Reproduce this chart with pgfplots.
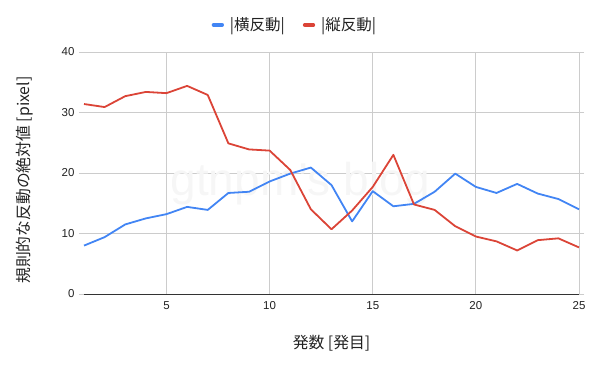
\documentclass[border=0pt]{standalone}
\usepackage{fontspec}
\setmainfont{Liberation Sans}
\newfontfamily\jp{Noto Sans CJK JP}
\usepackage{pgfplots}
\pgfplotsset{compat=1.18}
\definecolor{gblue}{HTML}{4285F4}
\definecolor{gred}{HTML}{DB4437}
\definecolor{ggrid}{HTML}{CCCCCC}
\definecolor{gtext}{HTML}{222222}
\begin{document}
\begin{tikzpicture}
\begin{axis}[
  name=ax,
  scale only axis, width=495pt, height=242pt,
  xmin=1, xmax=25, ymin=0, ymax=40,
  xtick={5,10,15,20,25}, ytick={0,10,20,30,40},
  grid=major, major grid style={ggrid, line width=0.8pt},
  axis line style={draw=none},
  xtick style={draw=none},
  ytick style={draw=ggrid, line width=0.8pt},
  tick align=outside, major tick length=5pt,
  /pgf/number format/assume math mode=true,
  tick label style={font=\fontsize{11.5}{13}\selectfont, text=gtext},
  xticklabel style={yshift=1pt},
  yticklabel style={xshift=-1pt},
  xlabel={\jp 発数 [発目]},
  ylabel={\jp 規則的な反動の絶対値 [pixel]},
  label style={font=\fontsize{15.8}{18}\selectfont, text=gtext},
  xlabel style={at={(axis description cs:0.5,-0.2025)}, anchor=center},
  ylabel style={at={(axis description cs:-0.119,0.471)}, anchor=center},
  legend columns=2,
  legend style={at={(0.426,1.112)}, anchor=center, draw=none, fill=none,
    font=\jp\fontsize{15.5}{17}\selectfont, text=gtext,
    /tikz/every odd column/.append style={column sep=4pt},
    /tikz/every even column/.append style={column sep=16pt}},
  legend image code/.code={\draw[line width=3.8pt, line cap=round] (0pt,0pt) -- (8.5pt,0pt);},
  clip=false,
]
\coordinate (bl) at (rel axis cs:0,0);
\node[text=black!3.5, font=\fontsize{46}{50}\selectfont] at (axis cs:11.5,18.3) {gtnpm's blog};
\draw[color=black!80, line width=0.9pt] (axis cs:1,0) -- (axis cs:25,0);
\addplot[gblue, line width=1.8pt, line join=round] coordinates {
(1,8.0) (2,9.4) (3,11.5) (4,12.5) (5,13.2) (6,14.4) (7,13.9) (8,16.7) (9,16.9) (10,18.6)
(11,19.9) (12,20.9) (13,18.0) (14,12.0) (15,17.0) (16,14.5) (17,14.9) (18,16.9) (19,19.9)
(20,17.7) (21,16.7) (22,18.2) (23,16.6) (24,15.7) (25,14.0)};
\addlegendentry{|横反動|}
\addplot[gred, line width=1.8pt, line join=round] coordinates {
(1,31.4) (2,30.9) (3,32.7) (4,33.4) (5,33.2) (6,34.4) (7,32.9) (8,24.9) (9,23.9) (10,23.7)
(11,20.5) (12,14.0) (13,10.7) (14,13.8) (15,17.7) (16,23.0) (17,14.8) (18,13.9) (19,11.2)
(20,9.5) (21,8.7) (22,7.2) (23,8.9) (24,9.2) (25,7.7)};
\addlegendentry{|縦反動|}
\end{axis}
\pgfresetboundingbox
\path[use as bounding box] ([shift={(-84pt,-76pt)}]bl) rectangle ++(599pt,370pt);
\end{tikzpicture}
\end{document}
